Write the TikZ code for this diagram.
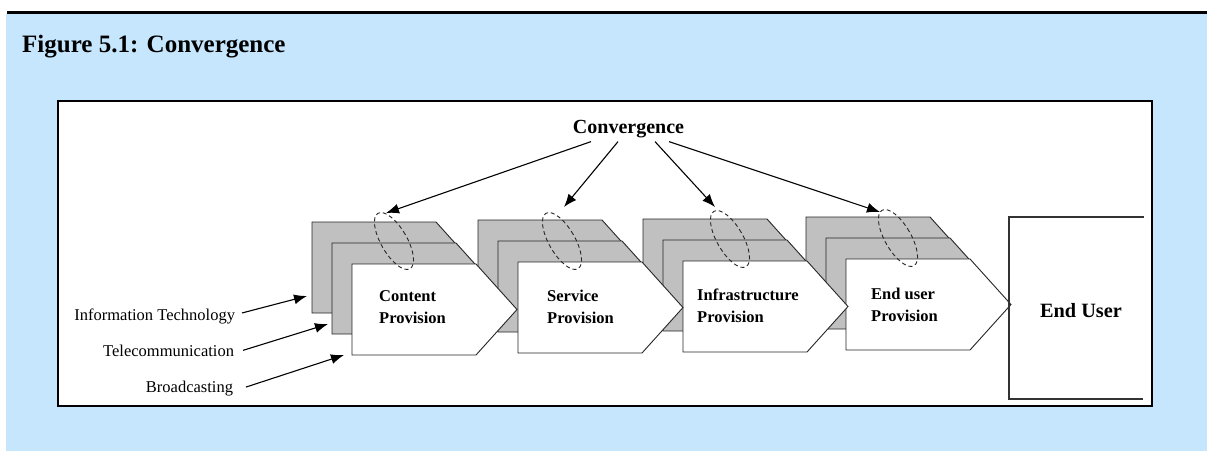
\documentclass[tikz,border=0pt]{standalone}
\usepackage{fontspec}
\setmainfont{Liberation Serif}
\usetikzlibrary{arrows.meta,shapes.geometric}
\definecolor{bgblue}{RGB}{197,230,252}
\definecolor{boxgray}{RGB}{192,192,192}
\newcommand\pentshape[3]{\draw[pentstyle,fill=#3] (#1,#2) -- ++(124,0) -- ++(41,45.5) -- ++(-41,45.5) -- ++(-124,0) -- cycle;}
\newcommand\provgroup[2]{%
  \pentshape{#1-40}{#2-42}{boxgray}%
  \pentshape{#1-20}{#2-21}{boxgray}%
  \pentshape{#1}{#2}{white}}
\begin{document}
\begin{tikzpicture}[x=1pt,y=-1pt,
  pentstyle/.style={draw=black!85,line width=0.9pt,line join=miter},
  lbl/.style={font=\fontsize{16.5}{22}\selectfont,inner sep=0pt,outer sep=0pt,anchor=base east},
  prov/.style={font=\fontsize{16.5}{22}\selectfont\bfseries,inner sep=0pt,align=left,anchor=base west},
  arr/.style={line width=1.1pt,-{Latex[length=13pt,width=10pt]}},
  ringstyle/.style={ellipse,draw=black!85,dash pattern=on 4pt off 3pt,line width=0.9pt,minimum width=26pt,minimum height=64pt,inner sep=0pt,rotate=30}]
\useasboundingbox (0,0) rectangle (1207,451);
% background
\fill[bgblue] (6,14) rectangle (1207,451);
\draw[line width=3pt] (7,12.5) -- (1207,12.5);
\node[font=\fontsize{25}{30}\selectfont\bfseries,inner sep=0pt,anchor=base west] (title) at (22,52) {Figure 5.1: Convergence};
% inner box
\draw[line width=2.5pt,fill=white] (58,101) rectangle (1152,406);
% provision groups (drawn right to left)
\provgroup{846}{259}
\provgroup{683}{261}
\provgroup{518}{262}
\provgroup{352}{264}
% end user box
\draw[draw=black!80,line width=1.2pt] (1144,217) -- (1009,217) -- (1009,399) -- (1143,399);
\node[font=\fontsize{20.3}{24}\selectfont\bfseries,inner sep=0pt,anchor=base] (eu) at (1081,317) {End User};
% provision texts
\node[prov] (p1) at (379,323) {Content\\Provision};
\node[prov] (p2) at (547,323) {Service\\Provision};
\node[prov] (p3) at (697,322) {Infrastructure\\Provision};
\node[prov] (p4) at (871,321) {End user\\Provision};
% ellipses
\node[ringstyle] (e1) at (394,241) {};
\node[ringstyle] (e2) at (562,241) {};
\node[ringstyle] (e3) at (730,239) {};
\node[ringstyle] (e4) at (898,238) {};
% convergence
\node[font=\fontsize{20}{24}\selectfont\bfseries,inner sep=0pt,anchor=base] (cv) at (628.5,133) {Convergence};
\coordinate (t1) at (386,213);
\coordinate (t2) at (564,207);
\coordinate (t3) at (715,207);
\coordinate (t4) at (880,212);
\draw[arr] ([shift={(-37.5,4)}]cv.south) -- (t1);
\draw[arr] ([shift={(-10.5,4)}]cv.south) -- (t2);
\draw[arr] ([shift={(26.5,4)}]cv.south) -- (t3);
\draw[arr] ([shift={(40.5,4)}]cv.south) -- (t4);
% left labels
\node[lbl] (it) at (235,320) {Information Technology};
\node[lbl] (tc) at (234,356) {Telecommunication};
\node[lbl] (bc) at (233,392) {Broadcasting};
\coordinate (s1) at (307,296);
\coordinate (s2) at (328,324);
\coordinate (s3) at (344,355);
\draw[arr] ([shift={(7,-3)}]it.east) -- (s1);
\draw[arr] ([shift={(9,0)}]tc.east) -- (s2);
\draw[arr] ([shift={(13,-1)}]bc.east) -- (s3);
\end{tikzpicture}
\end{document}
